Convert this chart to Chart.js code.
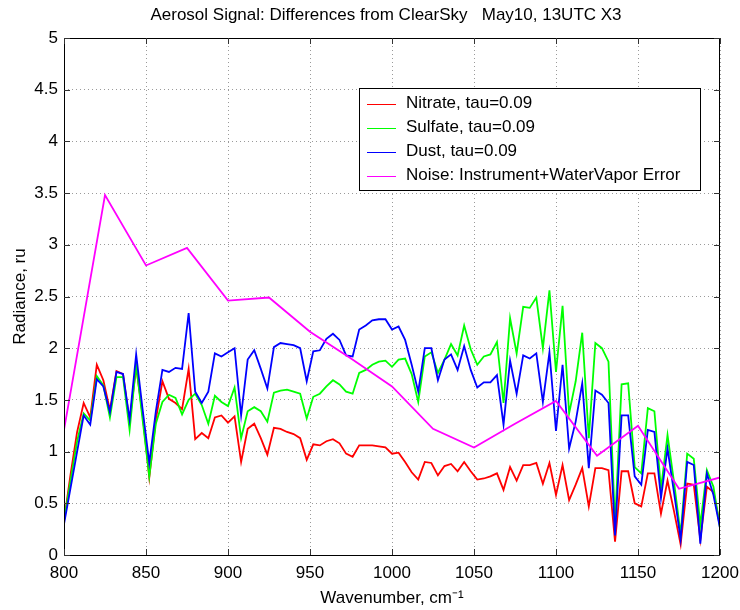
<!DOCTYPE html>
<html>
<head>
<meta charset="utf-8">
<script src="https://cdn.jsdelivr.net/npm/chart.js@4.4.1/dist/chart.umd.min.js"></script>
<style>
  html, body { margin: 0; padding: 0; background: #fff; }
  #wrap { width: 740px; height: 610px; }
</style>
</head>
<body>
<div id="wrap"><canvas id="chart" width="740" height="610"></canvas></div>
<script>
const wavenumbers = [
  800, 804, 808, 812, 816, 820, 824, 828, 832, 836, 840, 844, 848, 852, 856, 860, 864, 868, 872, 876,
  880, 884, 888, 892, 896, 900, 904, 908, 912, 916, 920, 924, 928, 932, 936, 940, 944, 948, 952, 956,
  960, 964, 968, 972, 976, 980, 984, 988, 992, 996, 1000, 1004, 1008, 1012, 1016, 1020, 1024, 1028, 1032, 1036,
  1040, 1044, 1048, 1052, 1056, 1060, 1064, 1068, 1072, 1076, 1080, 1084, 1088, 1092, 1096, 1100, 1104, 1108, 1112, 1116,
  1120, 1124, 1128, 1132, 1136, 1140, 1144, 1148, 1152, 1156, 1160, 1164, 1168, 1172, 1176, 1180, 1184, 1188, 1192, 1196,
  1200
];
const nitrate = [
  0.33, 0.78, 1.19, 1.47, 1.33, 1.84, 1.69, 1.40, 1.78, 1.75, 1.29, 1.82, 1.35, 0.75, 1.31, 1.68, 1.51, 1.47, 1.41, 1.80,
  1.12, 1.18, 1.13, 1.33, 1.35, 1.28, 1.34, 0.90, 1.22, 1.27, 1.13, 0.97, 1.23, 1.22, 1.19, 1.17, 1.13, 0.92, 1.07, 1.06,
  1.10, 1.12, 1.08, 0.98, 0.95, 1.06, 1.06, 1.06, 1.05, 1.04, 0.98, 0.99, 0.90, 0.80, 0.73, 0.90, 0.89, 0.77, 0.86, 0.88,
  0.81, 0.90, 0.81, 0.73, 0.74, 0.76, 0.79, 0.63, 0.85, 0.72, 0.87, 0.87, 0.89, 0.69, 0.89, 0.58, 0.87, 0.53, 0.68, 0.84,
  0.47, 0.84, 0.84, 0.82, 0.13, 0.81, 0.81, 0.50, 0.47, 0.79, 0.79, 0.40, 0.72, 0.42, 0.10, 0.69, 0.68, 0.15, 0.66, 0.61,
  0.29
];
const sulfate = [
  0.33, 0.72, 1.10, 1.37, 1.30, 1.73, 1.64, 1.33, 1.72, 1.72, 1.21, 1.84, 1.30, 0.76, 1.27, 1.48, 1.55, 1.52, 1.36, 1.50,
  1.56, 1.45, 1.27, 1.54, 1.48, 1.44, 1.62, 1.13, 1.39, 1.43, 1.39, 1.29, 1.57, 1.59, 1.60, 1.58, 1.56, 1.32, 1.53, 1.56,
  1.63, 1.69, 1.65, 1.58, 1.56, 1.76, 1.79, 1.84, 1.87, 1.88, 1.82, 1.89, 1.90, 1.75, 1.48, 1.92, 1.96, 1.76, 1.89, 2.04,
  1.93, 2.22, 1.99, 1.84, 1.92, 1.94, 2.06, 1.47, 2.29, 1.95, 2.40, 2.39, 2.49, 2.00, 2.56, 1.77, 2.41, 1.37, 1.68, 2.15,
  1.13, 2.05, 2.00, 1.87, 0.30, 1.65, 1.66, 0.85, 0.79, 1.42, 1.39, 0.64, 1.16, 0.70, 0.20, 0.98, 0.93, 0.29, 0.82, 0.66,
  0.26
];
const dust = [
  0.30, 0.65, 1.00, 1.35, 1.26, 1.70, 1.63, 1.38, 1.77, 1.75, 1.31, 1.94, 1.40, 0.89, 1.39, 1.79, 1.77, 1.81, 1.80, 2.34,
  1.58, 1.47, 1.58, 1.95, 1.92, 1.96, 2.00, 1.35, 1.89, 1.98, 1.80, 1.61, 2.01, 2.05, 2.04, 2.03, 2.00, 1.68, 1.97, 1.98,
  2.09, 2.14, 2.08, 1.93, 1.92, 2.18, 2.22, 2.27, 2.28, 2.28, 2.18, 2.21, 2.08, 1.84, 1.58, 2.00, 2.00, 1.69, 1.89, 1.94,
  1.79, 2.02, 1.79, 1.62, 1.67, 1.67, 1.74, 1.26, 1.88, 1.56, 1.93, 1.90, 1.95, 1.48, 1.96, 1.20, 1.84, 1.03, 1.29, 1.66,
  0.84, 1.59, 1.55, 1.47, 0.19, 1.35, 1.35, 0.76, 0.68, 1.21, 1.19, 0.55, 1.03, 0.60, 0.15, 0.90, 0.87, 0.11, 0.79, 0.58,
  0.26
];
const noiseWavenumbers = [800, 825, 850, 875, 900, 925, 950, 975, 1000, 1025, 1050, 1075, 1100, 1125, 1150, 1175, 1200];
const noise = [1.21, 3.48, 2.80, 2.97, 2.46, 2.49, 2.16, 1.90, 1.63, 1.22, 1.04, 1.27, 1.49, 0.96, 1.25, 0.64, 0.75];

const xTicks = [800, 850, 900, 950, 1000, 1050, 1100, 1150, 1200];
const yTicks = [0, 0.5, 1, 1.5, 2, 2.5, 3, 3.5, 4, 4.5, 5];

const FONT = '"Liberation Sans", Arial, Helvetica, sans-serif';
const FSIZE = 17;

function pairs(xs, ys) {
  return xs.map((x, i) => ({ x: x, y: ys[i] }));
}

// title, box, inward tick marks and the legend, MATLAB style
const decorations = {
  id: 'decorations',
  afterDraw(chart) {
    const { ctx, chartArea: a, scales } = chart;
    ctx.save();
    ctx.strokeStyle = '#000';
    ctx.lineWidth = 1;
    ctx.strokeRect(a.left + 0.5, a.top + 0.5, a.right - a.left - 1, a.bottom - a.top);

    ctx.strokeStyle = '#333';
    ctx.beginPath();
    xTicks.forEach(v => {
      const px = Math.round(scales.x.getPixelForValue(v)) + 0.5;
      ctx.moveTo(px, a.bottom); ctx.lineTo(px, a.bottom - 6);
      ctx.moveTo(px, a.top); ctx.lineTo(px, a.top + 6);
    });
    yTicks.forEach(v => {
      const py = Math.round(scales.y.getPixelForValue(v)) + 0.5;
      ctx.moveTo(a.left, py); ctx.lineTo(a.left + 6, py);
      ctx.moveTo(a.right, py); ctx.lineTo(a.right - 6, py);
    });
    ctx.stroke();

    ctx.fillStyle = '#000';
    ctx.font = FSIZE + 'px ' + FONT;
    ctx.textAlign = 'center';
    ctx.textBaseline = 'middle';
    ctx.fillText('Aerosol Signal: Differences from ClearSky   May10, 13UTC X3', 386, 15);

    // legend
    const lx = 359, ly = 88, lw = 341, lh = 102;
    ctx.fillStyle = '#fff';
    ctx.fillRect(lx, ly, lw, lh);
    ctx.strokeStyle = '#000';
    ctx.strokeRect(lx + 0.5, ly + 0.5, lw, lh);
    ctx.textAlign = 'left';
    chart.data.datasets.forEach((ds, i) => {
      const y = ly + 15.5 + i * 24;
      ctx.strokeStyle = ds.borderColor;
      ctx.lineWidth = 1;
      ctx.beginPath();
      ctx.moveTo(367, Math.round(y) + 0.5);
      ctx.lineTo(396, Math.round(y) + 0.5);
      ctx.stroke();
      ctx.fillStyle = '#000';
      ctx.fillText(ds.label, 406, y);
    });
    ctx.restore();
  }
};

const ctx = document.getElementById('chart').getContext('2d');
new Chart(ctx, {
  type: 'line',
  data: {
    datasets: [
      { label: 'Nitrate, tau=0.09', data: pairs(wavenumbers, nitrate), borderColor: '#ff0000', order: 3 },
      { label: 'Sulfate, tau=0.09', data: pairs(wavenumbers, sulfate), borderColor: '#00ff00', order: 2 },
      { label: 'Dust, tau=0.09', data: pairs(wavenumbers, dust), borderColor: '#0000ff', order: 1 },
      { label: 'Noise: Instrument+WaterVapor Error', data: pairs(noiseWavenumbers, noise), borderColor: '#ff00ff', order: 0 }
    ]
  },
  options: {
    responsive: false,
    animation: false,
    layout: { padding: { top: 38, right: 20, left: 0, bottom: 0 } },
    elements: {
      line: { borderWidth: 1.8, tension: 0, fill: false },
      point: { radius: 0 }
    },
    plugins: { legend: { display: false }, title: { display: false }, tooltip: { enabled: false } },
    scales: {
      x: {
        type: 'linear',
        min: 800, max: 1200,
        afterBuildTicks: s => { s.ticks = xTicks.map(v => ({ value: v })); },
        afterFit: s => { s.height = 55; s.paddingLeft = 0; s.paddingRight = 0; },
        ticks: { color: '#000', font: { family: FONT, size: FSIZE }, padding: 8, maxRotation: 0, autoSkip: false, callback: v => String(v) },
        grid: { color: '#9a9a9a', lineWidth: 1, drawTicks: false },
        border: { display: false, dash: [1, 3] },
        title: { display: true, text: 'Wavenumber, cm\u207B\u00B9', color: '#000', font: { family: FONT, size: FSIZE }, padding: { top: 0, bottom: 1 } }
      },
      y: {
        min: 0, max: 5,
        afterBuildTicks: s => { s.ticks = yTicks.map(v => ({ value: v })); },
        afterFit: s => { s.width = 64; s.paddingTop = 0; s.paddingBottom = 0; },
        ticks: { color: '#000', font: { family: FONT, size: FSIZE }, padding: 6, callback: v => String(v) },
        grid: { color: '#9a9a9a', lineWidth: 1, drawTicks: false },
        border: { display: false, dash: [1, 3] },
        title: { display: true, text: 'Radiance, ru', color: '#000', font: { family: FONT, size: FSIZE }, padding: { top: 10, bottom: 0 } }
      }
    }
  },
  plugins: [decorations]
});
</script>
</body>
</html>
